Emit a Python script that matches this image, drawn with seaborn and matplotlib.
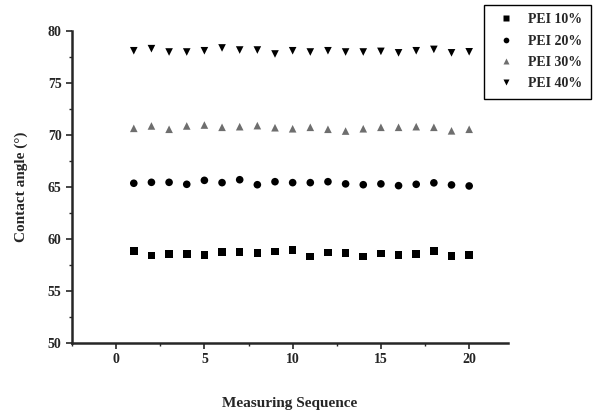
import numpy as np
import pandas as pd
import matplotlib
matplotlib.use("Agg")
import matplotlib.pyplot as plt
import seaborn as sns
from matplotlib.ticker import MultipleLocator

seq = list(range(1, 21))
pei10 = [58.87, 58.43, 58.56, 58.56, 58.46, 58.75, 58.75, 58.65, 58.8, 58.94,
         58.3, 58.7, 58.65, 58.3, 58.6, 58.45, 58.55, 58.85, 58.35, 58.45]
pei20 = [65.36, 65.45, 65.45, 65.26, 65.64, 65.42, 65.7, 65.22, 65.51, 65.42,
         65.42, 65.51, 65.3, 65.22, 65.3, 65.13, 65.26, 65.4, 65.2, 65.1]
pei30 = [70.64, 70.87, 70.55, 70.87, 70.96, 70.74, 70.8, 70.9, 70.7, 70.6,
         70.74, 70.55, 70.38, 70.6, 70.74, 70.74, 70.8, 70.74, 70.4, 70.55]
pei40 = [78.1, 78.3, 77.98, 77.98, 78.1, 78.37, 78.17, 78.17, 77.79, 78.1,
         77.98, 78.1, 77.98, 77.98, 78.04, 77.9, 78.1, 78.23, 77.9, 78.0]
labels = ["PEI 10%", "PEI 20%", "PEI 30%", "PEI 40%"]

frames = []
for lab, vals in zip(labels, [pei10, pei20, pei30, pei40]):
    frames.append(pd.DataFrame({"seq": seq, "angle": vals, "series": lab}))
df = pd.concat(frames, ignore_index=True)

sns.set_style("ticks")
plt.rcParams["font.family"] = ["Liberation Serif", "DejaVu Serif"]
plt.rcParams["font.weight"] = "bold"

fig = plt.figure(figsize=(5.96, 4.12), dpi=100)
ax = fig.add_axes([72 / 596, 69 / 412, 436 / 596, 312 / 412])

markers = {"PEI 10%": "s", "PEI 20%": "o", "PEI 30%": "^", "PEI 40%": "v"}
palette = {"PEI 10%": "black", "PEI 20%": "black", "PEI 30%": "#6e6e6e", "PEI 40%": "black"}
sns.scatterplot(data=df, x="seq", y="angle", hue="series", style="series",
                markers=markers, palette=palette, s=30, edgecolor="none",
                ax=ax, legend=True)

ax.set_xlim(-2.5, 22.2)
ax.set_ylim(50, 80)
ax.xaxis.set_major_locator(MultipleLocator(5))
ax.xaxis.set_minor_locator(MultipleLocator(2.5))
ax.yaxis.set_major_locator(MultipleLocator(5))
ax.yaxis.set_minor_locator(MultipleLocator(2.5))
ax.set_xticks([0, 5, 10, 15, 20])
ax.tick_params(which="major", length=4, width=1.2, direction="out", labelsize=10)
ax.tick_params(which="minor", length=2, width=1.0, direction="out")
for lab in ax.get_xticklabels() + ax.get_yticklabels():
    lab.set_fontweight("bold")
for s in ["top", "right"]:
    ax.spines[s].set_visible(False)
for s in ["left", "bottom"]:
    ax.spines[s].set_linewidth(1.8)

ax.set_xlabel("Measuring Sequence", fontsize=11, fontweight="bold", labelpad=22)
ax.set_ylabel("Contact angle (°)", fontsize=11, fontweight="bold", labelpad=14)

handles, labs = ax.get_legend_handles_labels()
leg = ax.legend(handles, labs, loc="upper left",
                bbox_to_anchor=(484 / 596, 1 - 5 / 412), bbox_transform=fig.transFigure,
                frameon=True, fancybox=False, edgecolor="black", framealpha=1,
                prop={"weight": "bold", "size": 10, "family": "Liberation Serif"},
                labelspacing=0.6, handletextpad=0.6, borderpad=0.6, markerscale=0.75,
                borderaxespad=0)
leg.get_frame().set_linewidth(1.0)

fig.savefig("out.png", dpi=100)
